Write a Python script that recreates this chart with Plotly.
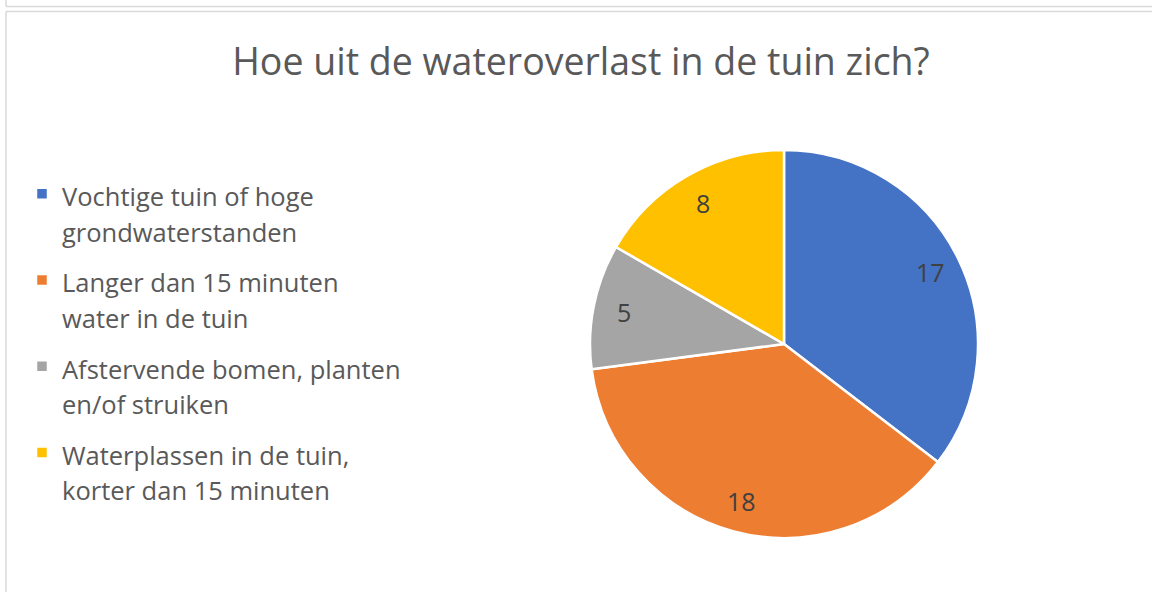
import numpy as np
import plotly.graph_objects as go

title = "Hoe uit de wateroverlast in de tuin zich?"
label_lines = [
    ("Vochtige tuin of hoge", "grondwaterstanden"),
    ("Langer dan 15 minuten", "water in de tuin"),
    ("Afstervende bomen, planten", "en/of struiken"),
    ("Waterplassen in de tuin,", "korter dan 15 minuten"),
]
values = [17, 18, 5, 8]
colors = ["#4472C4", "#ED7D31", "#A5A5A5", "#FFC000"]

W, H = 1152, 592
cx, cy, r = 784, 344, 194
FONT = "Open Sans"

legend_labels = [
    f"<span style='font-size:25.5px'>{a}</span><br>"
    f"<span style='font-size:25.5px;baseline-shift:6px'>{b}</span>"
    for a, b in label_lines
]

fig = go.Figure(go.Pie(
    labels=legend_labels,
    values=values,
    sort=False,
    direction="clockwise",
    rotation=0,
    marker=dict(colors=colors, line=dict(color="white", width=2.5)),
    textinfo="none",
    domain=dict(x=[(cx - r) / W, (cx + r) / W], y=[(H - cy - r) / H, (H - cy + r) / H]),
    hovertext=[f"{a} {b}" for a, b in label_lines],
    hoverinfo="text+value",
))

# data labels placed at a fixed fraction of the radius at each slice's mid-angle
vals = np.array(values, dtype=float)
mid = (np.cumsum(vals) - vals / 2) / vals.sum() * 2 * np.pi
k = 0.84
annotations = []
for v, a in zip(values, mid):
    px = cx + k * r * np.sin(a)
    py = cy - k * r * np.cos(a)
    annotations.append(dict(
        text=str(v), x=px / W, y=1 - py / H, xref="paper", yref="paper",
        showarrow=False, xanchor="center", yanchor="middle",
        font=dict(family=FONT, size=25, color="#404040"),
    ))

line = dict(color="#d9d9d9", width=1.5)
fig.update_layout(
    width=W, height=H,
    margin=dict(l=0, r=0, t=0, b=0),
    paper_bgcolor="white",
    title=dict(text=title, x=581 / W, xanchor="center", y=1 - 62 / H, yanchor="middle",
               font=dict(family=FONT, size=37.5, color="#595959")),
    font=dict(family=FONT, color="#595959"),
    legend=dict(x=22 / W, xanchor="left", y=1 - 344 / H, yanchor="middle",
                font=dict(family=FONT, size=32, color="#595959"),
                valign="top", itemwidth=30),
    annotations=annotations,
    shapes=[
        dict(type="line", xref="paper", yref="paper", x0=6 / W, x1=1, y0=1 - 6.5 / H, y1=1 - 6.5 / H, line=line),
        dict(type="line", xref="paper", yref="paper", x0=6 / W, x1=6 / W, y0=1, y1=1 - 6.5 / H, line=line),
        dict(type="line", xref="paper", yref="paper", x0=6 / W, x1=1, y0=1 - 11.5 / H, y1=1 - 11.5 / H, line=line),
        dict(type="line", xref="paper", yref="paper", x0=6 / W, x1=6 / W, y0=1 - 11.5 / H, y1=0, line=line),
    ],
)
fig.write_html("out.html", config={"displayModeBar": False},
               post_script="document.body.style.margin='0';document.body.style.overflow='hidden';")
